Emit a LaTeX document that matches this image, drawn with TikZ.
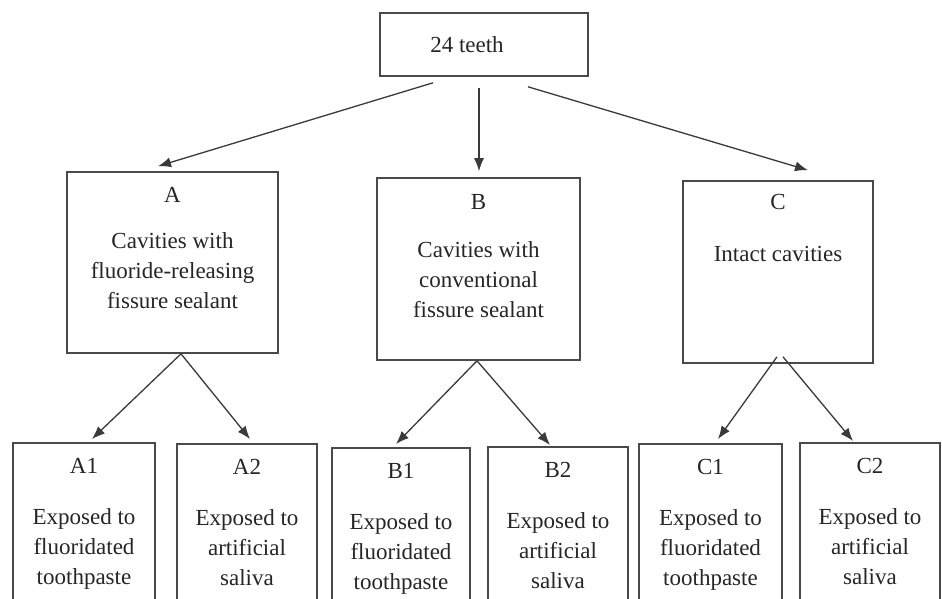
\documentclass[tikz,border=0pt]{standalone}
\usepackage{fontspec}
\setmainfont{Liberation Serif}
\usepackage{tikz}
\usetikzlibrary{arrows.meta, positioning}
\definecolor{boxGray}{HTML}{4A4A4A}
\definecolor{arrGray}{HTML}{3A3A3A}
\definecolor{txtGray}{HTML}{262626}

\begin{document}
\begin{tikzpicture}[x=1pt, y=-1pt,
    box/.style={draw=boxGray, line width=1.6pt, rectangle, inner sep=0pt},
    lbl/.style={align=center, inner sep=0pt, text=txtGray, font=\fontsize{23}{30}\selectfont},
    arr/.style={draw=arrGray, line width=1.3pt, -{Latex[length=13pt, width=10pt]}}]
    \useasboundingbox (0,0) rectangle (942,598);
    \clip (0,0) rectangle (942,598);
    \fill[white] (0,0) rectangle (942,598);

    \node[box, minimum width=208pt, minimum height=63pt] (top) at (484,44.5) {};
    \node[lbl] (toptext) at (467,45) {24 teeth};

    \node[box, minimum width=211pt, minimum height=181pt] (A) at (172.5,262.5) {};
    \node[box, minimum width=203pt, minimum height=182pt] (B) at (478.5,269) {};
    \node[box, minimum width=190pt, minimum height=182pt] (C) at (778,272) {};
    \node[lbl, below=16pt of A.north] (Atext) {A\\[16pt]Cavities with\\fluoride-releasing\\fissure sealant};
    \node[lbl, below=17pt of B.north] (Btext) {B\\[18pt]Cavities with\\conventional\\fissure sealant};
    \node[lbl, below=14pt of C.north] (Ctext) {C\\[22pt]Intact cavities};

    \node[box, anchor=north, minimum width=142pt, minimum height=200pt] (A1) at (84,442) {};
    \node[box, anchor=north, minimum width=140pt, minimum height=200pt] (A2) at (247,443) {};
    \node[box, anchor=north, minimum width=138pt, minimum height=200pt] (B1) at (401,447) {};
    \node[box, anchor=north, minimum width=140pt, minimum height=200pt] (B2) at (558,446) {};
    \node[box, anchor=north, minimum width=143pt, minimum height=200pt] (C1) at (710.5,443) {};
    \node[box, anchor=north, minimum width=140pt, minimum height=200pt] (C2) at (870,442) {};
    \node[lbl, below=16pt of A1.north] (A1text) {A1\\[21pt]Exposed to\\fluoridated\\toothpaste};
    \node[lbl, below=16pt of A2.north] (A2text) {A2\\[21pt]Exposed to\\artificial\\saliva};
    \node[lbl, below=16pt of B1.north] (B1text) {B1\\[21pt]Exposed to\\fluoridated\\toothpaste};
    \node[lbl, below=16pt of B2.north] (B2text) {B2\\[21pt]Exposed to\\artificial\\saliva};
    \node[lbl, below=16pt of C1.north] (C1text) {C1\\[21pt]Exposed to\\fluoridated\\toothpaste};
    \node[lbl, below=16pt of C2.north] (C2text) {C2\\[21pt]Exposed to\\artificial\\saliva};

    \draw[arr] ([xshift=-51pt, yshift=-6pt]top.south) -- ([xshift=-14.5pt, yshift=5pt]A.north);
    \draw[arr] ([xshift=-5pt, yshift=-11pt]top.south) -- ([xshift=0.5pt, yshift=6pt]B.north);
    \draw[arr] ([xshift=44pt, yshift=-10pt]top.south) -- ([xshift=30pt, yshift=10pt]C.north);

    \draw[arr] ([xshift=8.5pt]A.south) -- ([xshift=8pt, yshift=3pt]A1.north);
    \draw[arr] ([xshift=8.5pt]A.south) -- ([xshift=3pt, yshift=4pt]A2.north);
    \draw[arr] ([xshift=-1.5pt]B.south) -- ([xshift=-5pt, yshift=3pt]B1.north);
    \draw[arr] ([xshift=-1.5pt]B.south) -- ([xshift=-8pt, yshift=1pt]B2.north);
    \draw[arr] ([xshift=-1pt, yshift=7pt]C.south) -- ([xshift=7.5pt, yshift=4pt]C1.north);
    \draw[arr] ([xshift=5pt, yshift=7pt]C.south) -- ([xshift=-17pt, yshift=1pt]C2.north);
\end{tikzpicture}
\end{document}
